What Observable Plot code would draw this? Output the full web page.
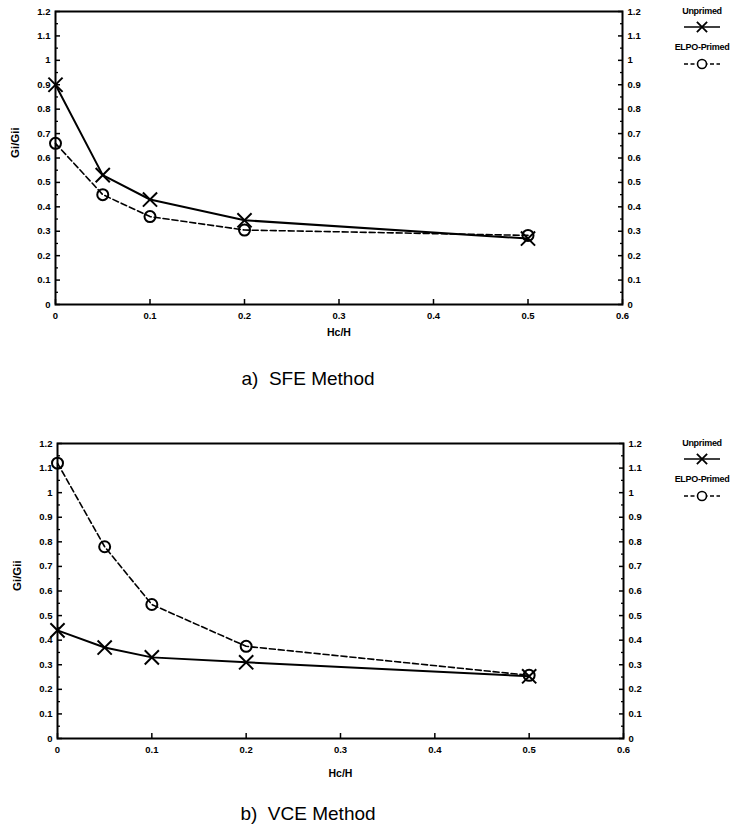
<!DOCTYPE html>
<html>
<head>
<meta charset="utf-8">
<script src="https://cdn.jsdelivr.net/npm/d3@7"></script>
<script src="https://cdn.jsdelivr.net/npm/@observablehq/plot@0.6"></script>
<style>
  html, body { margin: 0; padding: 0; background: #fff; }
  #page { position: relative; width: 735px; height: 830px; font-family: "Liberation Sans", Arial, sans-serif; color: #000; }
  .panel { position: absolute; left: 0; }
  .caption { position: absolute; font-size: 19px; white-space: pre; transform: translateX(-50%); }
  .legend { position: absolute; left: 660px; width: 75px; }
  .legend text { font-family: "Liberation Sans", Arial, sans-serif; font-weight: bold; font-size: 9px; letter-spacing: -0.3px; }
</style>
</head>
<body>
<div id="page"></div>
<script>
// Hc/H positions where Gi/Gii was evaluated
const hcH = [0, 0.05, 0.1, 0.2, 0.5];

// a) SFE method
const sfeUnprimed = [0.90, 0.53, 0.43, 0.345, 0.27];
const sfePrimed   = [0.66, 0.45, 0.36, 0.305, 0.283];

// b) VCE method
const vceUnprimed = [0.44, 0.37, 0.33, 0.31, 0.253];
const vcePrimed   = [1.12, 0.78, 0.545, 0.375, 0.257];

const seriesNames = ["Unprimed", "ELPO-Primed"];
const xTicks = [0, 0.1, 0.2, 0.3, 0.4, 0.5, 0.6];
const yTicks = [0, 0.1, 0.2, 0.3, 0.4, 0.5, 0.6, 0.7, 0.8, 0.9, 1, 1.1, 1.2];
const yMinorTicks = [0.05, 0.15, 0.25, 0.35, 0.45, 0.55, 0.65, 0.75, 0.85, 0.95, 1.05, 1.15];

const fmt = d => String(+d.toFixed(2));

function rows(unprimed, primed) {
  return hcH.flatMap((x, i) => [
    {x, y: unprimed[i], series: seriesNames[0]},
    {x, y: primed[i], series: seriesNames[1]}
  ]);
}

function panel(unprimed, primed, {marginTop, marginLeft, marginRight, plotHeight, marginBottom, xLabelOffset}) {
  const data = rows(unprimed, primed);
  const un = data.filter(d => d.series === seriesNames[0]);
  const pr = data.filter(d => d.series === seriesNames[1]);
  return Plot.plot({
    width: 735,
    height: marginTop + plotHeight + marginBottom,
    marginTop, marginLeft, marginRight, marginBottom,
    style: {fontFamily: "'Liberation Sans', Arial, sans-serif", fontWeight: "bold", fontSize: "9.5px", color: "#000", background: "transparent", overflow: "visible"},
    x: {domain: [0, 0.6]},
    y: {domain: [0, 1.2]},
    marks: [
      // inward major and minor ticks on both sides
      Plot.axisY(yTicks, {anchor: "left", tickSize: -5, fill: "none", label: null, strokeWidth: 1.5}),
      Plot.axisY(yMinorTicks, {anchor: "left", tickSize: -3, fill: "none", label: null, strokeWidth: 1.3}),
      Plot.axisY(yTicks, {anchor: "right", tickSize: -5, fill: "none", label: null, strokeWidth: 1.5}),
      Plot.axisY(yMinorTicks, {anchor: "right", tickSize: -3, fill: "none", label: null, strokeWidth: 1.3}),
      Plot.axisX(xTicks, {anchor: "bottom", tickSize: -5, fill: "none", label: null, strokeWidth: 1.5}),
      // tick labels
      Plot.axisY(yTicks, {anchor: "left", tickSize: 0, tickPadding: 5, tickFormat: fmt, label: null}),
      Plot.axisY(yTicks, {anchor: "right", tickSize: 0, tickPadding: 5, tickFormat: fmt, label: null}),
      Plot.axisX(xTicks, {anchor: "bottom", tickSize: 0, tickPadding: 8, tickFormat: fmt, label: null}),
      // axis titles
      Plot.text(["Gi/Gii"], {frameAnchor: "left", rotate: -90, dx: -40, fontSize: 11.5, fontWeight: "bold"}),
      Plot.text(["Hc/H"], {frameAnchor: "bottom", dy: xLabelOffset, fontSize: 10.5, fontWeight: "bold"}),
      Plot.frame({strokeWidth: 2}),
      Plot.line(pr, {x: "x", y: "y", stroke: "#000", strokeWidth: 1.6, strokeDasharray: "6,3"}),
      Plot.line(un, {x: "x", y: "y", stroke: "#000", strokeWidth: 2}),
      Plot.dot(pr, {x: "x", y: "y", symbol: "circle", r: 5.5, stroke: "#000", fill: "none", strokeWidth: 2}),
      Plot.dot(un, {x: "x", y: "y", symbol: "times", r: 6.5, stroke: "#000", strokeWidth: 2})
    ]
  });
}

function legend(top) {
  const svg = d3.create("svg").attr("class", "legend").attr("width", 75).attr("height", 72)
    .style("top", top + "px");
  const cx = 42;
  svg.append("text").attr("x", cx).attr("y", 11).attr("text-anchor", "middle").text(seriesNames[0]);
  svg.append("line").attr("x1", cx - 18).attr("x2", cx + 18).attr("y1", 24).attr("y2", 24)
    .attr("stroke", "#000").attr("stroke-width", 1.6);
  svg.append("path").attr("d", d3.symbol(d3.symbolTimes, 70)()).attr("transform", `translate(${cx},24)`)
    .attr("fill", "none").attr("stroke", "#000").attr("stroke-width", 1.8);
  svg.append("text").attr("x", cx).attr("y", 47).attr("text-anchor", "middle").text(seriesNames[1]);
  svg.append("line").attr("x1", cx - 18).attr("x2", cx + 18).attr("y1", 61).attr("y2", 61)
    .attr("stroke", "#000").attr("stroke-width", 1.4).attr("stroke-dasharray", "4,2.5");
  svg.append("circle").attr("cx", cx).attr("cy", 61).attr("r", 4.5)
    .attr("fill", "#fff").attr("stroke", "#000").attr("stroke-width", 1.6);
  return svg.node();
}

const page = document.getElementById("page");

function addPanel(top, chart, legendTop, caption, captionTop) {
  const div = document.createElement("div");
  div.className = "panel";
  div.style.top = top + "px";
  div.appendChild(chart);
  page.appendChild(div);
  page.appendChild(legend(legendTop));
  const cap = document.createElement("div");
  cap.className = "caption";
  cap.style.left = "308px";
  cap.style.top = captionTop + "px";
  cap.textContent = caption;
  page.appendChild(cap);
}

addPanel(0, panel(sfeUnprimed, sfePrimed, {marginTop: 11, marginLeft: 55, marginRight: 113, plotHeight: 293, marginBottom: 40, xLabelOffset: 31}),
  3, "a)  SFE Method", 368);
addPanel(400, panel(vceUnprimed, vcePrimed, {marginTop: 43, marginLeft: 57, marginRight: 112, plotHeight: 295, marginBottom: 45, xLabelOffset: 38}),
  435, "b)  VCE Method", 803);
</script>
</body>
</html>
